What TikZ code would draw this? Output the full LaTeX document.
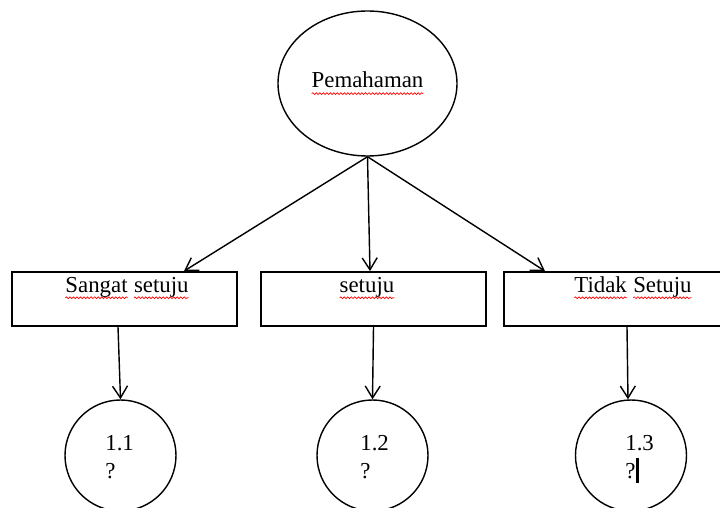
\documentclass[tikz,border=0pt]{standalone}
\usepackage{fontspec}
\setmainfont{Liberation Serif}
\usetikzlibrary{arrows.meta,shapes.geometric,decorations.pathmorphing}

% red wavy spell-check line under a word
\newcommand{\spell}[1]{\tikz[baseline=(w.base)]{\node[inner sep=0pt,outer sep=0pt,draw=none,shape=rectangle,minimum size=0pt] (w) {#1};
    \draw[red, line width=0.4pt, decorate, decoration={snake,amplitude=0.5pt,segment length=2pt}]
        ([yshift=-3.2pt]w.base west) -- ([yshift=-3.2pt]w.base east);}}

\begin{document}
\begin{tikzpicture}[
        txt/.style={font=\fontsize{13}{16}\selectfont, inner sep=0pt},
        topnode/.style={ellipse, draw=black, line width=0.8pt, minimum width=3.58cm, minimum height=2.9cm, txt},
        choice/.style={rectangle, draw=black, line width=1pt, minimum width=4.5cm, minimum height=1.08cm},
        result/.style={circle, draw=black, line width=0.8pt, minimum size=2.22cm},
        arr/.style={line width=0.8pt, -{Straight Barb[length=2.4mm, width=3mm]}}
    ]

        \clip (0,0) rectangle (14.4,10.16);

        \node[topnode] (paham) at (7.35, 8.49) {\spell{Pemahaman}};

        \node[choice] (b1) at (2.49, 4.18) {};
        \node[choice] (b2) at (7.47, 4.18) {};
        \node[choice] (b3) at (12.33, 4.18) {};

        \node[txt, anchor=base] (l1) at ([xshift=0.05cm, yshift=-0.42cm]b1.north) {\spell{Sangat} \spell{setuju}};
        \node[txt, anchor=base] (l2) at ([xshift=-0.13cm, yshift=-0.42cm]b2.north) {\spell{setuju}};
        \node[txt, anchor=base] (l3) at ([xshift=0.33cm, yshift=-0.42cm]b3.north) {\spell{Tidak} \spell{Setuju}};

        \node[result] (c1) at (2.41, 1.05) {};
        \node[result] (c2) at (7.45, 1.05) {};
        \node[result] (c3) at (12.62, 1.05) {};

        \node[txt, align=left, anchor=base west] (n1) at ([xshift=-0.31cm, yshift=-0.47cm]c1.center) {1.1\\?};
        \node[txt, align=left, anchor=base west] (n2) at ([xshift=-0.25cm, yshift=-0.47cm]c2.center) {1.2\\?};
        \node[txt, align=left, anchor=base west] (n3) at ([xshift=-0.12cm, yshift=-0.47cm]c3.center) {1.3\\?\hspace{0.5pt}\rule[-0.08cm]{1.5pt}{0.5cm}};

        \draw[arr] (paham.south) -- ([xshift=1.19cm]b1.north);
        \draw[arr] (paham.south) -- ([xshift=-0.07cm]b2.north);
        \draw[arr] (paham.south) -- ([xshift=-1.43cm]b3.north);

        \draw[arr] ([xshift=-0.13cm]b1.south) -- (c1.north);
        \draw[arr] (b2.south) -- (c2.north);
        \draw[arr] ([xshift=0.21cm]b3.south) -- ([xshift=-0.06cm]c3.north);
    \end{tikzpicture}
\end{document}
